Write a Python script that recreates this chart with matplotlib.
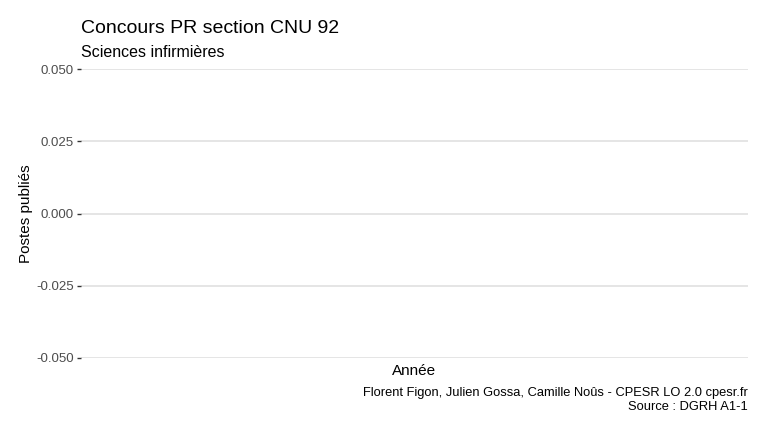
import matplotlib
matplotlib.use('Agg')
import matplotlib.pyplot as plt

plt.rcParams['font.family'] = ['Liberation Sans', 'DejaVu Sans']

# Data (the reference chart has no published posts: empty series)
annees = []
postes = []
y_ticks = [-0.050, -0.025, 0.000, 0.025, 0.050]
y_labels = ['-0.050', '-0.025', '0.000', '0.025', '0.050']

title = 'Concours PR section CNU 92'
subtitle = 'Sciences infirmières'
caption = 'Florent Figon, Julien Gossa, Camille Noûs - CPESR LO 2.0 cpesr.fr\nSource : DGRH A1-1'

fig = plt.figure(figsize=(7.68, 4.32), dpi=100)
ax = fig.add_axes([81 / 768, 1 - 358 / 432, (748 - 81) / 768, (358 - 69) / 432])

ax.plot(annees, postes, color='#333333')

ax.set_ylim(-0.05, 0.05)
ax.set_yticks(y_ticks)
ax.set_yticklabels(y_labels)
ax.set_xticks([])
ax.margins(y=0)

for s in ax.spines.values():
    s.set_visible(False)
ax.grid(axis='y', color='#dedede', linewidth=1.1)
ax.set_axisbelow(True)
ax.tick_params(axis='y', length=3, width=1, color='#333333', labelcolor='#4d4d4d',
               labelsize=9.5, pad=2)

# titles and labels
fig.text(81 / 768, 1 - 33 / 432, title, fontsize=14, color='black', va='baseline')
fig.text(81 / 768, 1 - 57 / 432, subtitle, fontsize=11.5, color='black', va='baseline')
fig.text(414.5 / 768, 1 - 375 / 432, 'Année', fontsize=11, ha='center', va='baseline')
fig.text(26 / 768, 1 - 214 / 432, 'Postes publiés', fontsize=11, rotation=90,
         ha='center', va='center')
fig.text(748 / 768, 1 - 410 / 432, caption, fontsize=9.25, ha='right', va='baseline',
         linespacing=1.2, multialignment='right')

plt.savefig('out.png', dpi=100)
